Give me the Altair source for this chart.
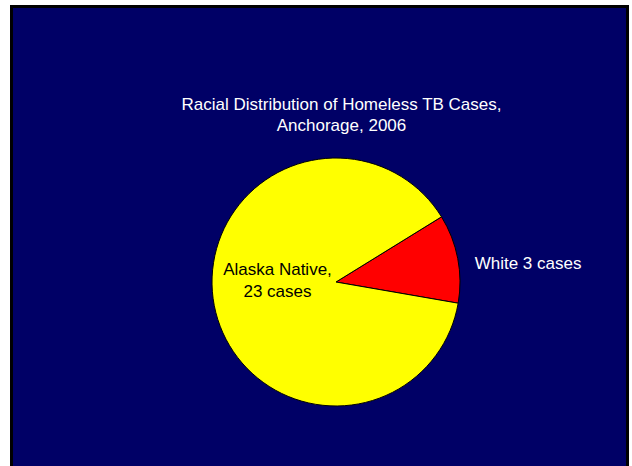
import math
import altair as alt
import pandas as pd

# Data
categories = ["White", "Alaska Native"]
cases = [3, 23]
slice_colors = ["#FF0000", "#FFFF00"]
title_lines = ["Racial Distribution of Homeless TB Cases,", "Anchorage, 2006"]
native_label = ["Alaska Native,", "23 cases"]
white_label = ["White 3 cases"]

NAVY = "#000066"
FONT = "Liberation Sans"
start = math.radians(58.3)

pie_df = pd.DataFrame({"category": categories, "value": cases, "idx": list(range(len(cases)))})

pie = alt.Chart(pie_df).mark_arc(outerRadius=124, stroke="black", strokeWidth=1).encode(
    theta=alt.Theta("value:Q", stack=True, scale=alt.Scale(range=[start, start + 2 * math.pi])),
    color=alt.Color("category:N", scale=alt.Scale(domain=categories, range=slice_colors), legend=None),
    order=alt.Order("idx:Q"),
    x=alt.value(323),
    y=alt.value(274),
)


def txt(s, x, y, color):
    return alt.Chart(pd.DataFrame({"t": [s]})).mark_text(
        font=FONT, fontSize=17, color=color, align="center", baseline="alphabetic"
    ).encode(x=alt.value(x), y=alt.value(y), text="t:N")


texts = [
    txt(title_lines[0], 328.5, 102, "white"),
    txt(title_lines[1], 328.5, 123, "white"),
    txt(native_label[0], 264.5, 267, "black"),
    txt(native_label[1], 264.5, 288.5, "black"),
    txt(white_label[0], 515, 261.3, "white"),
]

border_df = pd.DataFrame({"k": [0]})
left = alt.Chart(border_df).mark_rule(color="black", strokeWidth=3).encode(
    x=alt.value(-1.5), y=alt.value(-3), y2=alt.value(460))
top = alt.Chart(border_df).mark_rule(color="black", strokeWidth=3).encode(
    x=alt.value(-3), x2=alt.value(616), y=alt.value(-1.5))
right = alt.Chart(border_df).mark_rule(color="black", strokeWidth=3).encode(
    x=alt.value(614.5), y=alt.value(-3), y2=alt.value(460))

chart = alt.layer(pie, *texts, left, top, right).properties(
    width=613,
    height=458,
    padding={"left": 13, "top": 8, "right": 6, "bottom": 0},
    autosize=alt.AutoSizeParams(type="none"),
    background="white",
).configure_view(fill=NAVY, strokeWidth=0)

chart.save("out.html", embed_options={"renderer": "svg", "actions": False})
